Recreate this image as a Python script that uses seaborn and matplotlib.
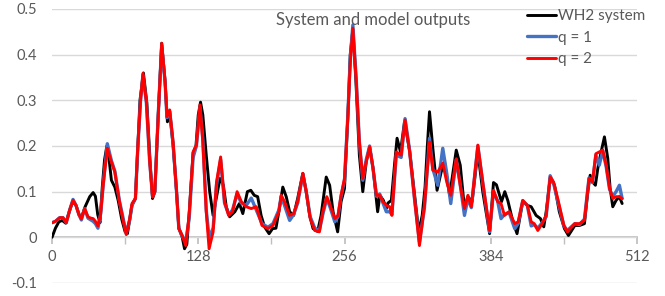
import numpy as np
import pandas as pd
import matplotlib
matplotlib.use("Agg")
import matplotlib.pyplot as plt
import seaborn as sns

# system output (black) - keypoints
sys_x = [0, 3, 6, 9, 12, 15, 18, 21, 24, 26, 29, 33, 36, 38, 40, 42, 44, 46, 48, 50,
         52, 55, 58, 61, 64, 66, 68, 70, 73, 75, 77, 80, 83, 86, 88, 90, 93, 96, 99, 101,
         103, 106, 109, 111, 114, 116, 118, 120, 123.5, 126, 128, 130, 132, 135, 138, 141, 144, 147, 150, 152.5,
         155.5, 160, 164, 167, 171, 174, 177, 180, 183, 186, 190, 193, 196, 199, 202, 205, 208, 211.5, 215, 219.5,
         222.5, 225.5, 228.5, 232.5, 235.5, 240, 243, 246, 250, 253, 256, 259, 261, 263.3, 266, 269, 272, 275, 278, 281,
         285, 287, 290, 292.6, 294, 297, 300, 302, 305, 308.5, 313, 317, 321, 324, 326.5, 328.5, 330.4, 333.3, 337, 340.6,
         343.5, 348, 353.8, 357.3, 361, 364, 367.7, 372.7, 377, 383, 386.4, 389, 393.4, 396.3, 399, 403.4, 407, 412, 416, 419.4,
         423.7, 427.5, 430.4, 432.5, 436, 439.8, 444, 448.5, 452, 457.6, 461.7, 466, 469, 471, 473.3, 475.6, 477.7, 480.6, 483.5, 486.4,
         488.5, 490.8, 493.7, 496.6, 499]
sys_y = [0.0, 0.02, 0.034, 0.037, 0.031, 0.055, 0.078, 0.07, 0.048, 0.045, 0.067, 0.089, 0.098, 0.09, 0.05, 0.032, 0.11, 0.17, 0.2, 0.17,
         0.125, 0.11, 0.08, 0.04, 0.012, 0.008, 0.038, 0.07, 0.085, 0.19, 0.3, 0.36, 0.295, 0.16, 0.085, 0.1, 0.27, 0.425, 0.34, 0.253,
         0.275, 0.2, 0.1, 0.02, 0.0, -0.025, -0.015, 0.05, 0.185, 0.2, 0.268, 0.296, 0.268, 0.18, 0.1, 0.048, 0.089, 0.129, 0.114, 0.067,
         0.045, 0.056, 0.074, 0.052, 0.1, 0.103, 0.092, 0.089, 0.048, 0.023, 0.008, 0.019, 0.02, 0.063, 0.11, 0.089, 0.056, 0.048, 0.085, 0.14,
         0.1, 0.048, 0.019, 0.013, 0.048, 0.132, 0.114, 0.056, 0.012, 0.078, 0.107, 0.268, 0.4, 0.455, 0.341, 0.18, 0.1, 0.165, 0.198, 0.151,
         0.056, 0.092, 0.081, 0.063, 0.075, 0.081, 0.165, 0.217, 0.187, 0.253, 0.19, 0.1, 0.012, 0.048, 0.11, 0.2, 0.275, 0.195, 0.103, 0.143,
         0.165, 0.092, 0.191, 0.158, 0.063, 0.089, 0.078, 0.187, 0.1, 0.008, 0.12, 0.115, 0.078, 0.1, 0.08, 0.034, 0.008, 0.078, 0.07, 0.067,
         0.048, 0.041, 0.023, 0.056, 0.129, 0.114, 0.056, 0.019, 0.004, 0.026, 0.026, 0.03, 0.1, 0.136, 0.121, 0.114, 0.151, 0.187, 0.22, 0.173,
         0.107, 0.067, 0.081, 0.089, 0.074]

# model outputs (q = 1 blue, q = 2 red), same sample positions
mod_x = [0, 3, 6.7, 9.6, 12.5, 15.5, 18.4, 21, 23.5, 25.7, 28.6, 31.5, 34, 36, 38, 40.2, 42.5, 45, 48.4, 52,
         55, 59, 62, 65, 68, 70, 73, 75, 77.5, 79.6, 82.6, 85.5, 88, 90, 93, 96, 99, 100.6, 103, 106,
         109, 111, 114, 117, 120, 123.5, 126.4, 129.5, 132, 135, 137.5, 141, 144, 147.6, 151, 154.6, 158, 162, 165.7, 170,
         174.4, 178.8, 183.8, 189, 193.4, 198.6, 200.6, 203.5, 208, 211.5, 215, 219.6, 222.5, 226, 230, 234, 237, 240.5, 243.5, 247.5,
         250.3, 253, 256, 259, 261, 263.3, 266.3, 269, 272, 275, 278, 281, 284, 286.8, 289.7, 292.6, 295.5, 297.5, 301.3, 305.6,
         309, 313, 317, 321.6, 326, 330.4, 333.3, 337.6, 342, 345.5, 349, 353.8, 357.3, 361, 364, 367, 372.7, 377, 383, 386.4,
         390, 393, 396, 400, 405, 408, 412, 416, 419.4, 422, 425.2, 429, 432.5, 436, 439, 442.6, 448, 451, 457.6, 461.7,
         466, 470, 473, 476, 479, 482, 485, 488, 490.8, 493.7, 496.6, 499]
q2_y = [0.032, 0.035, 0.043, 0.043, 0.032, 0.06, 0.081, 0.07, 0.05, 0.04, 0.063, 0.045, 0.042, 0.041, 0.035, 0.025, 0.05, 0.12, 0.195, 0.165,
        0.143, 0.078, 0.04, 0.006, 0.041, 0.074, 0.085, 0.195, 0.3, 0.359, 0.297, 0.165, 0.088, 0.1, 0.268, 0.425, 0.341, 0.264, 0.279, 0.209,
        0.1, 0.019, 0.004, -0.018, 0.048, 0.187, 0.202, 0.29, 0.209, 0.056, -0.025, 0.012, 0.121, 0.176, 0.078, 0.048, 0.056, 0.1, 0.078, 0.067,
        0.063, 0.067, 0.026, 0.019, 0.026, 0.056, 0.092, 0.078, 0.048, 0.052, 0.078, 0.14, 0.1, 0.041, 0.015, 0.012, 0.056, 0.089, 0.07, 0.041,
        0.048, 0.092, 0.129, 0.268, 0.38, 0.458, 0.341, 0.209, 0.129, 0.165, 0.198, 0.151, 0.092, 0.092, 0.078, 0.07, 0.067, 0.048, 0.187, 0.18,
        0.257, 0.187, 0.092, -0.018, 0.07, 0.209, 0.147, 0.143, 0.162, 0.121, 0.092, 0.172, 0.114, 0.063, 0.092, 0.067, 0.202, 0.121, 0.015, 0.103,
        0.078, 0.074, 0.048, 0.056, 0.03, 0.034, 0.081, 0.07, 0.034, 0.03, 0.015, 0.03, 0.048, 0.132, 0.121, 0.085, 0.026, 0.012, 0.03, 0.03,
        0.037, 0.129, 0.121, 0.183, 0.187, 0.191, 0.158, 0.107, 0.085, 0.089, 0.089, 0.085]
q1_y = [0.032, 0.035, 0.043, 0.043, 0.032, 0.06, 0.083, 0.07, 0.05, 0.038, 0.063, 0.042, 0.038, 0.035, 0.03, 0.02, 0.05, 0.12, 0.205, 0.168,
        0.145, 0.08, 0.045, 0.008, 0.038, 0.07, 0.085, 0.19, 0.3, 0.355, 0.295, 0.165, 0.09, 0.1, 0.27, 0.42, 0.338, 0.262, 0.276, 0.205,
        0.1, 0.02, 0.002, -0.01, 0.04, 0.175, 0.2, 0.285, 0.215, 0.06, 0.0, 0.02, 0.115, 0.17, 0.075, 0.05, 0.06, 0.095, 0.075, 0.07,
        0.086, 0.06, 0.03, 0.022, 0.03, 0.06, 0.09, 0.07, 0.037, 0.05, 0.075, 0.138, 0.1, 0.045, 0.02, 0.015, 0.05, 0.085, 0.065, 0.034,
        0.045, 0.09, 0.125, 0.27, 0.39, 0.465, 0.345, 0.21, 0.125, 0.17, 0.2, 0.15, 0.09, 0.095, 0.075, 0.056, 0.056, 0.05, 0.18, 0.175,
        0.26, 0.19, 0.09, -0.01, 0.065, 0.217, 0.15, 0.114, 0.195, 0.14, 0.074, 0.17, 0.115, 0.048, 0.085, 0.065, 0.2, 0.12, 0.012, 0.1,
        0.08, 0.041, 0.05, 0.055, 0.019, 0.03, 0.08, 0.07, 0.025, 0.028, 0.02, 0.032, 0.045, 0.135, 0.118, 0.08, 0.025, 0.015, 0.03, 0.028,
        0.04, 0.13, 0.12, 0.18, 0.158, 0.19, 0.155, 0.105, 0.09, 0.1, 0.114, 0.085]

grey = "#595959"

sns.set_theme(style="white")
plt.rcParams["font.family"] = ["Lato", "DejaVu Sans"]

fig = plt.figure(figsize=(6.65, 2.96), dpi=100)
ax = fig.add_axes([52 / 665, 1 - 283 / 296, 585 / 665, 274 / 296])

line_kw = dict(solid_joinstyle="round", solid_capstyle="round")
sns.lineplot(x=sys_x, y=sys_y, ax=ax, color="black", lw=2.1, label="WH2 system", **line_kw)
sns.lineplot(x=mod_x, y=q1_y, ax=ax, color="#4472C4", lw=2.4, label="q = 1", **line_kw)
sns.lineplot(x=mod_x, y=q2_y, ax=ax, color="#FF0000", lw=2.1, label="q = 2", **line_kw)

ax.set_xlim(0, 512)
ax.set_ylim(-0.1, 0.5)
ax.set_yticks(np.arange(-0.1, 0.51, 0.1))
ax.set_yticklabels(["-0.1", "0", "0.1", "0.2", "0.3", "0.4", "0.5"])
ax.set_xticks([0, 128, 256, 384, 512])
ax.set_xticks([64, 192, 320, 448], minor=True)

for s in ["left", "right", "top"]:
    ax.spines[s].set_visible(False)
ax.spines["bottom"].set_position(("data", 0))
ax.spines["bottom"].set_color("#bfbfbf")
ax.spines["bottom"].set_zorder(0.5)

ax.yaxis.grid(True, color="#d9d9d9", lw=1)
ax.xaxis.grid(False)
ax.set_axisbelow(True)

ax.tick_params(axis="x", which="both", direction="out", length=5, color="#bfbfbf",
               labelsize=10.5, labelcolor=grey, pad=4, bottom=True)
ax.tick_params(axis="y", length=0, labelsize=10.5, labelcolor=grey, pad=11)

ax.text(373 / 665, 1 - 20 / 296, "System and model outputs", transform=fig.transFigure,
        ha="center", va="center", fontsize=12, color=grey)

leg = ax.legend(loc="upper left", bbox_to_anchor=(527 / 665, 1 - 9 / 296),
                bbox_transform=fig.transFigure, frameon=False, fontsize=11,
                handlelength=1.9, handletextpad=0.1, labelspacing=0.5,
                borderaxespad=0, borderpad=0)
for t in leg.get_texts():
    t.set_color(grey)

fig.savefig("out.png", dpi=100)
